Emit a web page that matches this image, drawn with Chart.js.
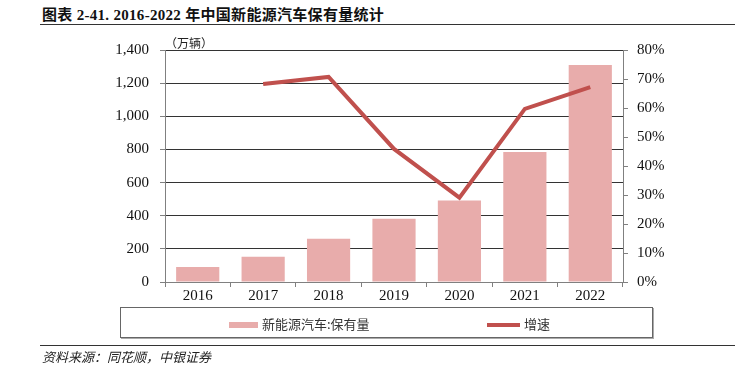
<!DOCTYPE html>
<html lang="zh">
<head>
  <meta charset="UTF-8">
  <title>2016-2022年中国新能源汽车保有量统计</title>
  <style>
    body {
      margin: 0;
      width: 735px;
      height: 369px;
      background: #fff;
      position: relative;
      overflow: hidden;
      font-family: "Liberation Serif", "Noto Sans CJK SC", serif;
      color: #111;
    }
    #chart { position: absolute; left: 0; top: 0; }
    .title {
      position: absolute; left: 42px; top: 3px;
      font-size: 15px; font-weight: bold; white-space: nowrap; letter-spacing: 0.3px;
    }
    .rule { position: absolute; height: 1px; background: #333; }
    .unit {
      position: absolute; left: 165px; top: 34px;
      font-size: 12px; font-family: "Noto Sans CJK SC", sans-serif; color: #222;
    }
    .legend {
      position: absolute; left: 120px; top: 307px; width: 531px; height: 29px;
      border: 1px solid #666; box-shadow: 1px 1px 0 #aaa;
    }
    .item {
      position: absolute; top: 6px; font-size: 13px;
      font-family: "Noto Sans CJK SC", sans-serif; color: #333; white-space: nowrap;
    }
    .swatch { display: inline-block; vertical-align: middle; margin-right: 4px; }
    .source {
      position: absolute; left: 42px; top: 347px;
      font-size: 13px; font-style: italic; font-family: "Noto Sans CJK SC", sans-serif; color: #222;
    }
  </style>
</head>
<body>
  <div class="title">图表 2-41. 2016-2022 年中国新能源汽车保有量统计</div>
  <div class="rule" style="left:40px; top:24px; width:695px;"></div>
  <canvas id="chart" width="735" height="369"></canvas>
  <div class="unit">（万辆）</div>
  <div class="legend">
    <div class="item" style="left:108px;"><span class="swatch" style="width:29px;height:6px;background:#e8acab;"></span>新能源汽车:保有量</div>
    <div class="item" style="left:366px;"><span class="swatch" style="width:33px;height:4px;background:#c0504d;"></span>增速</div>
  </div>
  <div class="rule" style="left:40px; top:345px; width:695px;"></div>
  <div class="source">资料来源：同花顺，中银证券</div>

  <script src="https://cdn.jsdelivr.net/npm/chart.js"></script>
  <script>
    // data
    const years = ['2016', '2017', '2018', '2019', '2020', '2021', '2022'];
    const stock = [91, 153, 261, 381, 492, 784, 1310];           // 万辆
    const growth = [null, 0.683, 0.707, 0.459, 0.291, 0.597, 0.672];

    const tickFont = { family: '"Liberation Serif", serif', size: 15 };

    new Chart(document.getElementById('chart'), {
      data: {
        labels: years,
        datasets: [
          {
            type: 'line',
            label: '增速',
            data: growth,
            yAxisID: 'yR',
            borderColor: '#c0504d',
            borderWidth: 4,
            pointRadius: 0,
            tension: 0,
            order: 0
          },
          {
            type: 'bar',
            label: '新能源汽车:保有量',
            data: stock,
            yAxisID: 'y',
            backgroundColor: '#e8acab',
            categoryPercentage: 1,
            barPercentage: 0.66,
            order: 1
          }
        ]
      },
      options: {
        responsive: false,
        animation: false,
        layout: { padding: { top: 50, left: 0, right: 0, bottom: 0 } },
        plugins: { legend: { display: false }, tooltip: { enabled: false } },
        scales: {
          x: {
            offset: true,
            afterFit: s => { s.height = 87; },
            grid: {
              offset: true, drawOnChartArea: false,
              tickLength: 5, tickColor: '#808080'
            },
            border: { color: '#808080' },
            ticks: { color: '#111', font: tickFont, padding: 0 }
          },
          y: {
            position: 'left',
            min: 0, max: 1400,
            afterFit: s => { s.width = 165; },
            grid: {
              color: ctx => ctx.tick && ctx.tick.value === 0 ? 'rgba(0,0,0,0)' : '#333',
              borderDash: [7, 4],
              tickBorderDash: [],
              tickColor: '#808080',
              tickLength: 5
            },
            border: { color: '#808080' },
            ticks: {
              stepSize: 200, color: '#111', font: tickFont, padding: 11,
              callback: v => v.toLocaleString('en-US')
            }
          },
          yR: {
            position: 'right',
            min: 0, max: 0.8,
            afterFit: s => { s.width = 112; },
            grid: { drawOnChartArea: false, tickLength: 5, tickColor: '#808080' },
            border: { color: '#808080' },
            ticks: {
              stepSize: 0.1, color: '#111', font: tickFont, padding: 9,
              callback: v => Math.round(v * 100) + '%'
            }
          }
        }
      }
    });
  </script>
</body>
</html>
